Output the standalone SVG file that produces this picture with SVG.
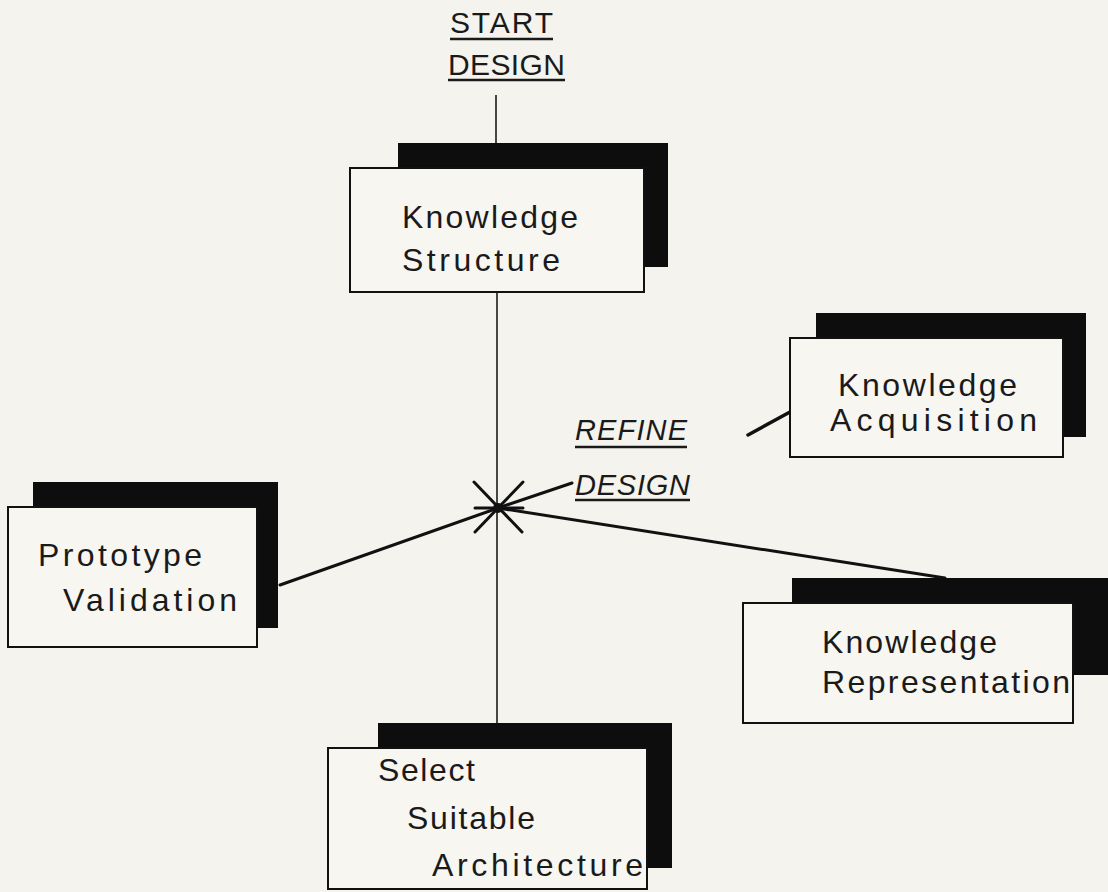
<svg xmlns="http://www.w3.org/2000/svg" width="1108" height="892" viewBox="0 0 1108 892">
  <style>
    .shadow { fill: #0d0d0d; }
    .box { fill: #f7f6f1; stroke: #111; stroke-width: 2; }
    .label { font-family: "Liberation Sans", Arial, sans-serif; font-size: 32px; fill: #1a1a1a; }
    .title { font-family: "Liberation Sans", Arial, sans-serif; font-size: 30px; fill: #1a1a1a; }
    .ital { font-family: "Liberation Sans", Arial, sans-serif; font-size: 29px; font-style: italic; fill: #1a1a1a; }
    .ul { stroke: #1a1a1a; stroke-width: 2.5; }
    .thin { stroke: #1a1a1a; stroke-width: 1.6; fill: none; }
    .thick { stroke: #111; stroke-width: 3; fill: none; stroke-linecap: round; }
  </style>
  <rect width="1108" height="892" fill="#f4f3ed"/>

  <!-- entry label -->
  <g id="start-design">
    <text class="title" x="450" y="33" textLength="103" lengthAdjust="spacing">START</text>
    <line class="ul" x1="450" y1="39" x2="553" y2="39"/>
    <text class="title" x="448" y="75" textLength="117" lengthAdjust="spacing">DESIGN</text>
    <line class="ul" x1="448" y1="80" x2="565" y2="80"/>
  </g>

  <!-- connectors -->
  <g id="connectors">
    <line class="thin" x1="496" y1="95" x2="496" y2="143"/>
    <line class="thin" x1="497" y1="292" x2="497" y2="723"/>
    <line class="thick" x1="498" y1="508" x2="572" y2="483"/>
    <line class="thick" x1="498" y1="508" x2="280" y2="585"/>
    <line class="thick" x1="498" y1="508" x2="945" y2="578"/>
    <line class="thick" x1="748" y1="435" x2="790" y2="412" style="stroke-width:3.5"/>
  </g>

  <!-- refine hub -->
  <g id="refine-design">
    <line class="thick" x1="474" y1="482" x2="522" y2="532"/>
    <line class="thick" x1="523" y1="482" x2="475" y2="532"/>
    <line class="thick" x1="475" y1="508" x2="523" y2="508"/>
    <circle cx="498" cy="508" r="5" fill="#111"/>
    <text class="ital" x="575" y="440" textLength="112" lengthAdjust="spacing">REFINE</text>
    <line class="ul" x1="575" y1="447" x2="687" y2="447"/>
    <text class="ital" x="575" y="495" textLength="115" lengthAdjust="spacing">DESIGN</text>
    <line class="ul" x1="575" y1="500" x2="690" y2="500"/>
  </g>

  <g id="knowledge-structure">
    <rect class="shadow" x="398" y="143" width="270" height="124"/>
    <rect class="box" x="350" y="168" width="294" height="124"/>
    <text class="label" x="402" y="228" textLength="176" lengthAdjust="spacing">Knowledge</text>
    <text class="label" x="402" y="271" textLength="158" lengthAdjust="spacing">Structure</text>
  </g>

  <g id="knowledge-acquisition">
    <rect class="shadow" x="816" y="313" width="270" height="124"/>
    <rect class="box" x="790" y="338" width="273" height="119"/>
    <text class="label" x="838" y="396" textLength="179" lengthAdjust="spacing">Knowledge</text>
    <text class="label" x="830" y="431" textLength="207" lengthAdjust="spacing">Acquisition</text>
  </g>

  <g id="prototype-validation">
    <rect class="shadow" x="33" y="482" width="245" height="146"/>
    <rect class="box" x="8" y="507" width="249" height="140"/>
    <text class="label" x="38" y="566" textLength="164" lengthAdjust="spacing">Prototype</text>
    <text class="label" x="63" y="611" textLength="174" lengthAdjust="spacing">Validation</text>
  </g>

  <g id="knowledge-representation">
    <rect class="shadow" x="792" y="578" width="320" height="97"/>
    <rect class="box" x="743" y="603" width="330" height="120"/>
    <text class="label" x="822" y="653" textLength="175" lengthAdjust="spacing">Knowledge</text>
    <text class="label" x="822" y="693" textLength="248" lengthAdjust="spacing">Representation</text>
  </g>

  <g id="select-architecture">
    <rect class="shadow" x="378" y="723" width="294" height="145"/>
    <rect class="box" x="328" y="748" width="319" height="141"/>
    <text class="label" x="378" y="781" textLength="97" lengthAdjust="spacing">Select</text>
    <text class="label" x="407" y="829" textLength="128" lengthAdjust="spacing">Suitable</text>
    <text class="label" x="432" y="876" textLength="211" lengthAdjust="spacing">Architecture</text>
  </g>
</svg>
